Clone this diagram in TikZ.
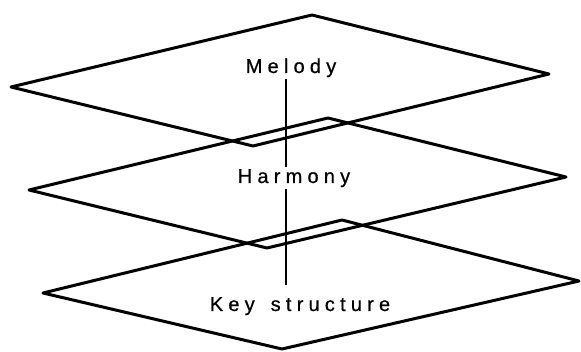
\documentclass[tikz,border=0pt]{standalone}
\usepackage{fontspec}
\setmainfont{Liberation Sans}[LetterSpace=26,FakeBold=0.6]
\begin{document}
\begin{tikzpicture}[x=1pt,y=-1pt,
  plane/.style={line width=3pt,line join=round},
  lbl/.style={font=\fontsize{20}{22}\selectfont, inner sep=2pt, anchor=base},
  conn/.style={line width=2.2pt}]
\useasboundingbox (0,0) rectangle (581,352);
\draw[plane] (11,87) -- (312,15) -- (549,74) -- (253,146) -- cycle;
\draw[plane] (29,190) -- (328,118) -- (566,177) -- (267,248) -- cycle;
\draw[plane] (43,293) -- (342,220) -- (579,281) -- (282,349) -- cycle;
\node[lbl] (melody) at (291,73) {Melody};
\node[lbl] (harmony) at (294,183) {Harmony};
\node[lbl] (key) at (300,311) {Key\hspace{16pt}structure};
\coordinate (axis) at (286,0);
\draw[conn] (melody.south -| axis) -- (harmony.north -| axis);
\draw[conn] (harmony.south -| axis) -- ([yshift=10pt]key.north -| axis);
\end{tikzpicture}
\end{document}
